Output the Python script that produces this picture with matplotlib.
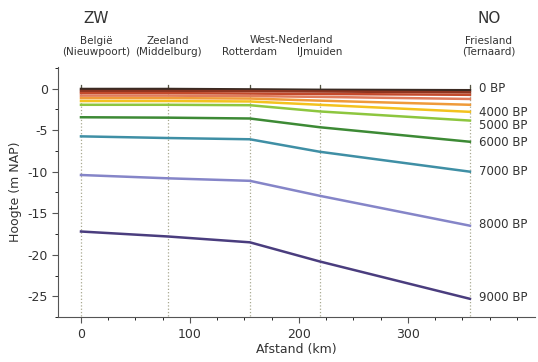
import numpy as np
import matplotlib.pyplot as plt

# afstand (km) van de doorsnede-punten
afstand = [0, 80, 155, 219, 357]

# hoogte (m NAP) per tijdstip
bp_0 = [-0.05, -0.05, -0.1, -0.15, -0.2]
bp_1000 = [-0.3, -0.3, -0.3, -0.35, -0.45]
bp_2000 = [-0.55, -0.55, -0.6, -0.65, -0.75]
bp_3000 = [-0.85, -0.85, -0.9, -1.0, -1.25]
bp_3500 = [-1.15, -1.15, -1.2, -1.45, -1.95]
bp_4000 = [-1.5, -1.5, -1.55, -1.95, -2.8]
bp_5000 = [-1.95, -1.95, -2.0, -2.75, -3.85]
bp_6000 = [-3.45, -3.5, -3.6, -4.65, -6.4]
bp_7000 = [-5.75, -5.95, -6.1, -7.6, -10.0]
bp_8000 = [-10.4, -10.8, -11.1, -12.9, -16.5]
bp_9000 = [-17.2, -17.8, -18.5, -20.8, -25.3]

reeksen = [bp_0, bp_1000, bp_2000, bp_3000, bp_3500, bp_4000,
           bp_5000, bp_6000, bp_7000, bp_8000, bp_9000]
labels = ["0 BP", "", "", "", "", "4000 BP",
          "5000 BP", "6000 BP", "7000 BP", "8000 BP", "9000 BP"]
# hoogte van de labels rechts (iets uit elkaar gezet)
label_y = [-0.05, None, None, None, None, -2.85,
           -4.5, -6.5, -10.0, -16.4, -25.2]
kleuren = ["#3b2a22", "#8e3520", "#c24a2c", "#e07c5c", "#ef9a3a", "#f3c21e",
           "#8dc63f", "#3d8a35", "#3f8fa5", "#8585c8", "#4a3d7e"]

plaatsen = [80, 155, 219, 357]  # gridlijnen

txt = "#333333"

fig = plt.figure(figsize=(5.38, 3.62), dpi=100)
ax = fig.add_axes([0.108, 0.124, 0.887, 0.691])

ymin, ymax = -27.4, 2.6
for x in [0] + plaatsen:
    ax.vlines(x, ymin, 0.25, colors="#a8a890", linestyles=":", lw=0.9, zorder=1)
    ax.plot([x, x], [0.0, 0.4], color="#555544", lw=0.9, zorder=1)

for y, lab, ly, c in zip(reeksen, labels, label_y, kleuren):
    ax.plot(afstand, y, color=c, lw=1.8, zorder=3)
    if lab:
        ax.text(365, ly, lab, fontsize=8.5, color=txt, va="center", ha="left")

ax.set_xlim(-21, 417)
ax.set_ylim(ymin, ymax)
ax.set_xticks([0, 100, 200, 300])
ax.set_xticks(np.arange(0, 401, 25), minor=True)
ax.set_yticks([0, -5, -10, -15, -20, -25])
ax.set_yticks(np.arange(-27.5, 2.6, 2.5), minor=True)
ax.set_yticklabels(["0", "-5", "-10", "-15", "-20", "-25"])

for s in ["top", "right"]:
    ax.spines[s].set_visible(False)
for s in ["left", "bottom"]:
    ax.spines[s].set_color("#555555")
ax.tick_params(colors="#555555", labelcolor=txt, labelsize=9, length=4)
ax.tick_params(which="minor", length=2.5)

ax.set_xlabel("Afstand (km)", fontsize=9, color=txt, labelpad=2)
ax.set_ylabel("Hoogte (m NAP)", fontsize=9, color=txt, labelpad=4)

# kopteksten
ax.text(14, 8.4, "ZW", fontsize=11, color=txt, ha="center", va="center", clip_on=False)
ax.text(375, 8.4, "NO", fontsize=11, color=txt, ha="center", va="center", clip_on=False)
ax.text(14, 5.1, "België\n(Nieuwpoort)", fontsize=7.5, color=txt, ha="center",
        va="center", linespacing=1.1, clip_on=False)
ax.text(80, 5.1, "Zeeland\n(Middelburg)", fontsize=7.5, color=txt, ha="center",
        va="center", linespacing=1.1, clip_on=False)
ax.text(193, 5.8, "West-Nederland", fontsize=7.5, color=txt, ha="center",
        va="center", clip_on=False)
ax.text(155, 4.4, "Rotterdam", fontsize=7.5, color=txt, ha="center",
        va="center", clip_on=False)
ax.text(219, 4.4, "IJmuiden", fontsize=7.5, color=txt, ha="center",
        va="center", clip_on=False)
ax.text(374, 5.1, "Friesland\n(Ternaard)", fontsize=7.5, color=txt, ha="center",
        va="center", linespacing=1.1, clip_on=False)

fig.savefig("out.png", dpi=100)
